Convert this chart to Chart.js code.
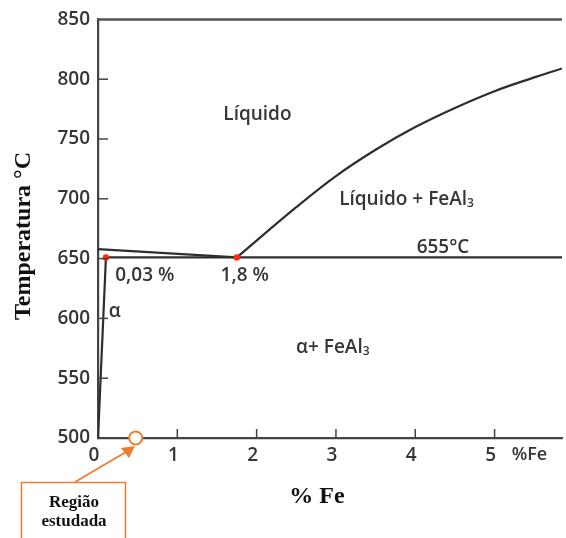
<!DOCTYPE html>
<html>
<head>
<meta charset="utf-8">
<script src="https://cdn.jsdelivr.net/npm/chart.js@4/dist/chart.umd.min.js"></script>
<style>
  html, body { margin: 0; padding: 0; background: #fff; }
  #wrap { width: 566px; height: 538px; }
</style>
</head>
<body>
<div id="wrap"><canvas id="diagrama"></canvas></div>
<script>
const feLiqEsq = [0, 1.75];
const tempLiqEsq = [658, 651];
const feLiquidus = [1.75, 2.5, 3.0, 3.5, 4.0, 4.5, 5.0, 5.5, 5.85];
const tempLiquidus = [651, 693, 719, 741, 760, 776, 790, 801.5, 809];
const feEutetico = [0.1, 5.85];
const tempEutetico = [651, 651];
const feSolvus = [0.1, 0];
const tempSolvus = [651, 500];
const fePontos = [0.1, 1.75];
const tempPontos = [651, 651];
const xTicks = [0, 1, 2, 3, 4, 5];
const yTicks = [500, 550, 600, 650, 700, 750, 800, 850];

// junta x e y em pontos
function pontos(xs, ys) {
    return xs.map(function(v, i) { return { x: v, y: ys[i] }; });
}

const corLinha = '#2e2e2e';
const corTexto = '#363636';
const laranja = '#ED7D31';
const fonteTexto = '"Open Sans", "Liberation Sans", sans-serif';
const fonteSerif = '"Liberation Serif", "Times New Roman", serif';
const pesoTexto = '600 ';

// desenha texto com subscrito no fim (ex. FeAl3)
function textoSub(ctx, base, sub, cx, cy, size) {
    ctx.font = pesoTexto + size + 'px ' + fonteTexto;
    const w1 = ctx.measureText(base).width;
    ctx.font = pesoTexto + Math.round(size * 0.62) + 'px ' + fonteTexto;
    const w2 = ctx.measureText(sub).width;
    const x0 = cx - (w1 + w2) / 2;
    ctx.textAlign = 'left';
    ctx.textBaseline = 'middle';
    ctx.font = pesoTexto + size + 'px ' + fonteTexto;
    ctx.fillText(base, x0, cy);
    ctx.font = pesoTexto + Math.round(size * 0.62) + 'px ' + fonteTexto;
    ctx.fillText(sub, x0 + w1, cy + size * 0.22);
}

const decoracao = {
    id: 'decoracao',
    afterDraw(chart) {
        const ctx = chart.ctx;
        const a = chart.chartArea;
        const x = chart.scales.x;
        const y = chart.scales.y;
        ctx.save();

        // linha superior
        ctx.strokeStyle = '#555';
        ctx.lineWidth = 2.5;
        ctx.beginPath();
        ctx.moveTo(a.left, a.top);
        ctx.lineTo(a.right, a.top);
        ctx.stroke();

        // marcas dos eixos para dentro
        ctx.strokeStyle = '#444';
        ctx.lineWidth = 1.5;
        yTicks.forEach(function(v) {
            if (v > 500 && v < 850) {
                const py = y.getPixelForValue(v);
                ctx.beginPath();
                ctx.moveTo(a.left, py);
                ctx.lineTo(a.left + 10, py);
                ctx.stroke();
            }
        });
        xTicks.forEach(function(v) {
            if (v > 0) {
                const px = x.getPixelForValue(v);
                ctx.beginPath();
                ctx.moveTo(px, a.bottom);
                ctx.lineTo(px, a.bottom - 9);
                ctx.stroke();
            }
        });

        // rotulos das regioes
        ctx.fillStyle = corTexto;
        ctx.textAlign = 'center';
        ctx.textBaseline = 'middle';
        ctx.font = pesoTexto + '19px ' + fonteTexto;
        ctx.fillText('Líquido', x.getPixelForValue(2.01), y.getPixelForValue(770));
        ctx.fillText('655°C', x.getPixelForValue(4.35), y.getPixelForValue(659));
        ctx.fillText('1,8 %', x.getPixelForValue(1.85), y.getPixelForValue(635.5));
        ctx.fillText('0,03 %', x.getPixelForValue(0.59), y.getPixelForValue(635.5));
        ctx.fillText('α', x.getPixelForValue(0.21), y.getPixelForValue(606));
        textoSub(ctx, 'Líquido + FeAl', '3', x.getPixelForValue(3.89), y.getPixelForValue(699.5), 19);
        textoSub(ctx, 'α+ FeAl', '3', x.getPixelForValue(2.96), y.getPixelForValue(575.7), 19);
        ctx.textAlign = 'center';
        ctx.font = pesoTexto + '18px ' + fonteTexto;
        ctx.fillText('%Fe', x.getPixelForValue(5.44), a.bottom + 17);

        // titulos dos eixos
        ctx.fillStyle = '#111';
        ctx.font = 'bold 24px ' + fonteSerif;
        ctx.fillText('% Fe', 317, 497);
        ctx.save();
        ctx.translate(24, 236);
        ctx.rotate(-Math.PI / 2);
        ctx.fillText('Temperatura °C', 0, 0);
        ctx.restore();

        // regiao estudada: circulo, seta e caixa
        const cx = x.getPixelForValue(0.475);
        const cy = y.getPixelForValue(500);
        ctx.strokeStyle = laranja;
        ctx.fillStyle = laranja;
        ctx.lineWidth = 1.8;
        ctx.beginPath();
        ctx.moveTo(75, 482);
        ctx.lineTo(126, 452);
        ctx.stroke();
        ctx.beginPath();
        ctx.moveTo(135, 446);
        ctx.lineTo(121, 448);
        ctx.lineTo(129, 458);
        ctx.closePath();
        ctx.fill();
        ctx.beginPath();
        ctx.arc(cx, cy, 6.5, 0, Math.PI * 2);
        ctx.fillStyle = '#fff';
        ctx.fill();
        ctx.lineWidth = 2;
        ctx.stroke();
        ctx.lineWidth = 1.5;
        ctx.strokeRect(21.5, 482.5, 104, 70);
        ctx.fillStyle = '#111';
        ctx.font = 'bold 17px ' + fonteSerif;
        ctx.textAlign = 'center';
        ctx.fillText('Região', 74, 503);
        ctx.fillText('estudada', 74, 522);

        ctx.restore();
    }
};

const linha = {
    showLine: true,
    borderColor: corLinha,
    borderWidth: 2.2,
    pointRadius: 0,
    fill: false
};

new Chart(document.getElementById('diagrama'), {
    type: 'scatter',
    data: {
        datasets: [
            Object.assign({ data: pontos(feLiqEsq, tempLiqEsq) }, linha),
            Object.assign({ data: pontos(feLiquidus, tempLiquidus), tension: 0.4 }, linha),
            Object.assign({ data: pontos(feEutetico, tempEutetico) }, linha),
            Object.assign({ data: pontos(feSolvus, tempSolvus) }, linha),
            {
                data: pontos(fePontos, tempPontos),
                order: -1,
                pointRadius: 3.2,
                pointBackgroundColor: '#ff2a10',
                pointBorderColor: '#ff2a10',
                pointBorderWidth: 0,
                showLine: false
            }
        ]
    },
    options: {
        responsive: true,
        maintainAspectRatio: false,
        animation: false,
        layout: { padding: { top: 17, right: 0, left: 0, bottom: 0 } },
        plugins: {
            legend: { display: false },
            tooltip: { enabled: false }
        },
        scales: {
            x: {
                type: 'linear',
                min: 0,
                max: 5.85,
                afterBuildTicks: function(s) { s.ticks = xTicks.map(function(v) { return { value: v }; }); },
                afterFit: function(s) { s.height = 100; },
                grid: { display: false, drawTicks: false },
                border: { display: true, color: '#444', width: 2.2 },
                ticks: {
                    padding: 6,
                    labelOffset: -4,
                    color: corTexto,
                    font: { family: fonteTexto, size: 19, weight: '600' },
                    maxRotation: 0
                }
            },
            y: {
                type: 'linear',
                min: 500,
                max: 850,
                afterBuildTicks: function(s) { s.ticks = yTicks.map(function(v) { return { value: v }; }); },
                afterFit: function(s) { s.width = 98; },
                grid: { display: false, drawTicks: false },
                border: { display: true, color: '#444', width: 2.2 },
                ticks: {
                    padding: 8,
                    color: corTexto,
                    font: { family: fonteTexto, size: 19, weight: '600' }
                }
            }
        }
    },
    plugins: [decoracao]
});
</script>
</body>
</html>
